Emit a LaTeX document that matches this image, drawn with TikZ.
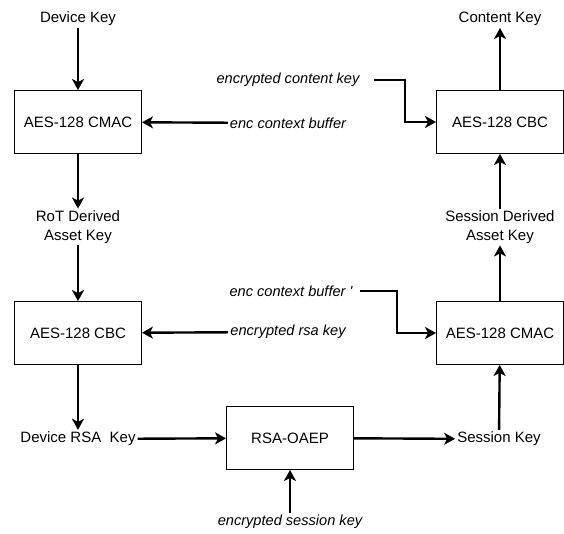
\documentclass[tikz,border=0pt]{standalone}
\usepackage{fontspec}
\setmainfont{Liberation Sans}
\usetikzlibrary{arrows.meta}
\begin{document}
\begin{tikzpicture}[x=1pt,y=-1pt,
    font=\fontsize{15}{18.5}\selectfont,
    block/.style={rectangle,draw,line width=0.9pt,minimum width=127pt,minimum height=63pt},
    key/.style={align=center,inner sep=2pt},
    input/.style={inner sep=2pt,font=\fontsize{14.6}{18}\selectfont\itshape},
    flow/.style={line width=2.4pt,-{Stealth[length=11pt,width=12pt,inset=3pt]}}]
    \useasboundingbox (0,0) rectangle (564,533);

    % left column
    \node(devkey)[key] at (78,19) {Device Key};
    \node(cmacL)[block] at (78,122) {AES-128 CMAC};
    \node(rotkey)[key] at (78,227) {RoT Derived\\Asset Key};
    \node(cbcL)[block] at (78,333) {AES-128 CBC};
    \node(devrsa)[key] at (78,439) {Device RSA\ \ Key};

    % middle
    \node(oaep)[block] at (290,438) {RSA-OAEP};
    \node(encsess)[input] at (290,522) {encrypted session key};
    \node(enccont)[input] at (288,80) {encrypted content key};
    \node(encctx)[input] at (288,123) {enc context buffer};
    \node(encctxb)[input] at (291,291) {enc context buffer \textquotesingle};
    \node(encrsa)[input] at (288,332) {encrypted rsa key};

    % right column
    \node(sesskey)[key] at (499,439) {Session Key};
    \node(cmacR)[block] at (500,333) {AES-128 CMAC};
    \node(sdkey)[key] at (500,227) {Session Derived\\Asset Key};
    \node(cbcR)[block] at (500,122) {AES-128 CBC};
    \node(contkey)[key] at (500,19) {Content Key};

    \coordinate(bendcont) at (405,80);
    \coordinate(bendctx) at (397,291);

    \path[flow]
    (devkey) edge (cmacL)
    (cmacL) edge (rotkey)
    (rotkey) edge (cbcL)
    (cbcL) edge (devrsa)
    (devrsa) edge (oaep)
    (oaep) edge (sesskey)
    (encsess) edge (oaep)
    (sesskey) edge (cmacR)
    (cmacR) edge (sdkey)
    (sdkey) edge (cbcR)
    (cbcR) edge (contkey)
    (encctx) edge (cmacL)
    (encrsa) edge (cbcL);
    \draw[flow,shorten <=12pt] (enccont) -- (bendcont) |- (cbcR.west);
    \draw[flow,shorten <=5pt] (encctxb) -- (bendctx) |- (cmacR.west);
  \end{tikzpicture}
\end{document}
